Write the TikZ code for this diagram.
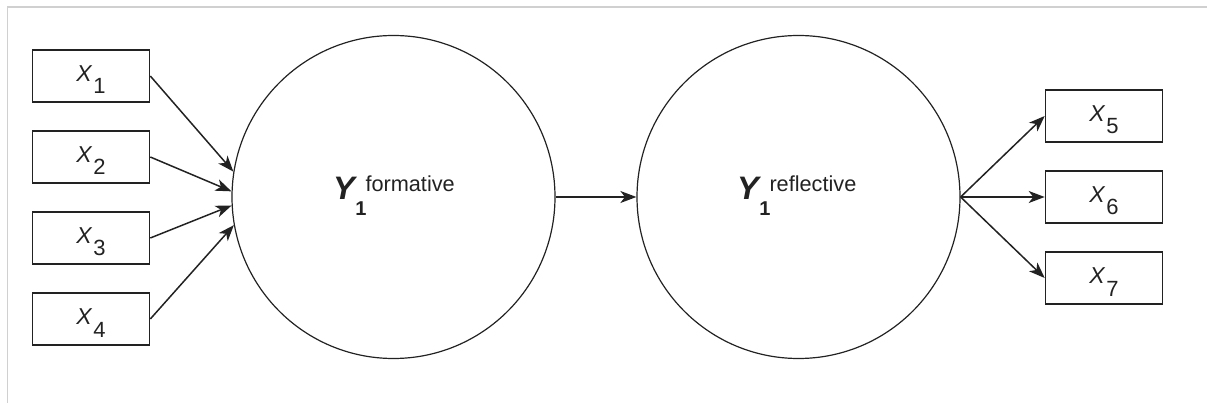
\documentclass[tikz,border=0pt]{standalone}
\usepackage{fontspec}
\setmainfont{Liberation Sans}
\usetikzlibrary{arrows.meta}
\definecolor{ink}{HTML}{222222}
\definecolor{frame}{HTML}{D0D0D0}
\newcommand{\xlab}[1]{{\fontsize{23}{23}\selectfont\itshape X}\kern1.5pt\raisebox{-12.3pt}{\fontsize{22}{22}\selectfont #1}}
\newcommand{\ylab}[1]{{\fontsize{32.5}{32.5}\selectfont\bfseries\itshape Y}\kern0.5pt\raisebox{-16pt}{\fontsize{20}{20}\selectfont\bfseries 1}\kern-1pt\raisebox{8.3pt}{\fontsize{21.7}{21.7}\selectfont #1}}
\begin{document}
\begin{tikzpicture}[x=1pt,y=-1pt,
  obs/.style={draw=ink,line width=1.6pt,minimum width=117pt,minimum height=52pt,inner sep=0pt,text=ink,text height=17pt,text depth=5.6pt},
  lat/.style={draw=ink,circle,line width=1.2pt,minimum size=323pt,inner sep=0pt},
  lab/.style={anchor=base west,inner sep=0pt,text=ink},
  arr/.style={draw=ink,line width=1.5pt,-{Stealth[length=16pt,width=12pt,inset=4.5pt]}}]
\useasboundingbox (0,0) rectangle (1207,403);
\draw[frame,line width=1.2pt] (7.5,403) -- (7.5,7) -- (1207,7);
\node[obs] (x1) at (91,76) {\xlab{1}};
\node[obs] (x2) at (91,157) {\xlab{2}};
\node[obs] (x3) at (91,238) {\xlab{3}};
\node[obs] (x4) at (91,319) {\xlab{4}};
\node[obs] (x5) at (1104,116) {\xlab{5}};
\node[obs] (x6) at (1104,197) {\xlab{6}};
\node[obs] (x7) at (1104,278) {\xlab{7}};
\node[lat] (c1) at (393.5,197) {};
\node[lat] (c2) at (798.5,197) {};
\node[lab] (t1) at (333,200) {\ylab{formative}};
\node[lab] (t2) at (737,200) {\ylab{reflective}};
\draw[arr] (x1.east) -- (c1.171.5);
\draw[arr] (x2.east) -- (c1.178);
\draw[arr] (x3.east) -- (c1.183.5);
\draw[arr] (x4.east) -- (c1.190.5);
\draw[arr] (c1.east) -- (c2.west);
\draw[arr] (c2.east) -- (x5.west);
\draw[arr] (c2.east) -- (x6.west);
\draw[arr] (c2.east) -- (x7.west);
\end{tikzpicture}
\end{document}
